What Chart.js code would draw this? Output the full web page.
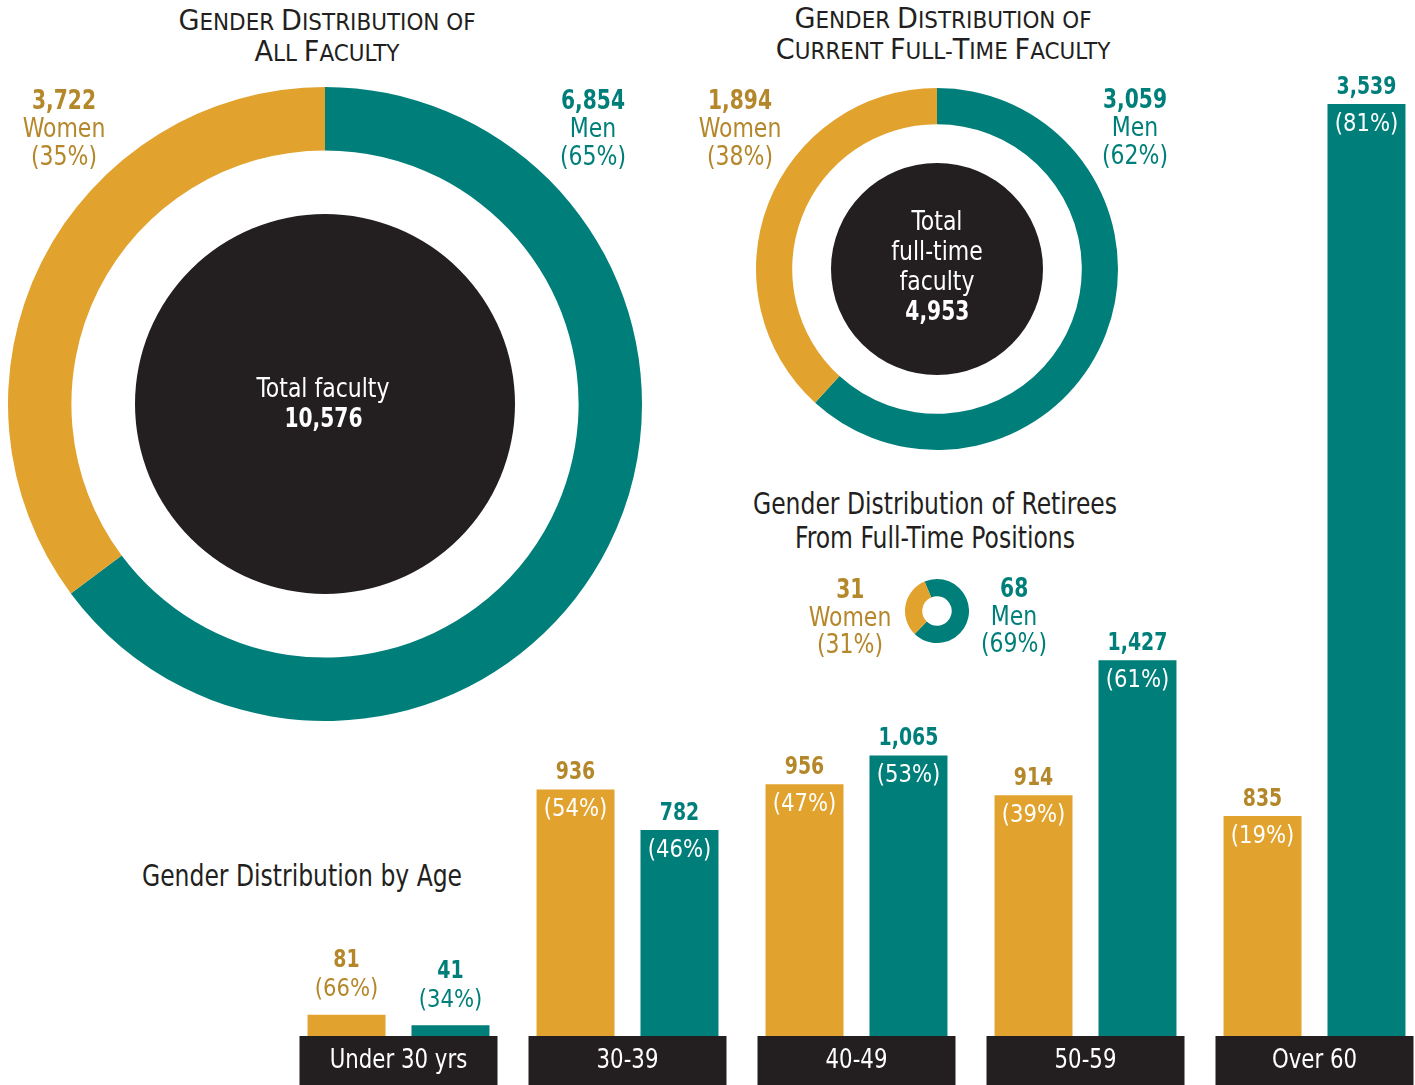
<!DOCTYPE html>
<html><head><meta charset="utf-8">
<script src="https://cdn.jsdelivr.net/npm/chart.js@4"></script>
<style>
html,body{margin:0;padding:0;background:#fff;overflow:hidden;width:1415px;height:1085px;}
body{position:relative;font-family:'Liberation Sans Narrow','DejaVu Sans Condensed',sans-serif;}
canvas{position:absolute;}
.lbl{position:absolute;transform:translateX(-50%) scaleX(0.94);text-align:center;font-size:26px;line-height:28px;white-space:nowrap;}
.gold{color:#B5872B}.teal{color:#007F7A}.white{color:#fff}
.b{font-weight:bold;display:inline-block;transform:scaleX(0.92)}
.title{position:absolute;transform:translateX(-50%) scaleX(1.04);text-align:center;text-transform:uppercase;font-size:23px;line-height:29px;color:#231F20;white-space:nowrap}
.title .c{font-size:29px}
.sub{position:absolute;transform:translateX(-50%) scaleX(0.87);text-align:center;font-size:30px;line-height:34px;color:#231F20;white-space:nowrap}
</style>
</head><body>
<div class="title" style="left:327px;top:6px"><span class="c">G</span>ender <span class="c">D</span>istribution of<br><span class="c">A</span>ll <span class="c">F</span>aculty</div>
<div class="title" style="left:943px;top:4px"><span class="c">G</span>ender <span class="c">D</span>istribution of<br><span class="c">C</span>urrent <span class="c">F</span>ull-<span class="c">T</span>ime <span class="c">F</span>aculty</div>
<div class="sub" style="left:935px;top:487px">Gender Distribution of Retirees<br>From Full-Time Positions</div>
<div class="sub" style="left:302px;top:859px">Gender Distribution by Age</div>

<canvas id="bigDonut" width="634" height="634" style="left:8px;top:87px"></canvas>
<canvas id="ftDonut" width="362" height="362" style="left:756px;top:88px"></canvas>
<canvas id="retDonut" width="64" height="64" style="left:905px;top:579px"></canvas>
<canvas id="ageBars" width="1145" height="1085" style="left:284px;top:0px"></canvas>

<div id="labels"></div>

<script>
// ---- DATA ----
const genderLabels = ['Men', 'Women'];
const allFacultyValues = [6854, 3722];
const allFacultyPct = [65, 35];
const allFacultyTotal = 10576;
const fullTimeValues = [3059, 1894];
const fullTimePct = [62, 38];
const fullTimeTotal = 4953;
const retireeValues = [68, 31];
const retireePct = [69, 31];
const ageCategories = ['Under 30 yrs', '30-39', '40-49', '50-59', 'Over 60'];
const womenByAge = [81, 936, 956, 914, 835];
const menByAge = [41, 782, 1065, 1427, 3539];
const womenPctByAge = [66, 54, 47, 39, 19];
const menPctByAge = [34, 46, 53, 61, 81];

// ---- STYLE ----
const TEAL = '#007E79', GOLD = '#E2A22E', DARK = '#231F20';
const TEAL_TXT = '#007F7A', GOLD_TXT = '#B5872B';
const FONT = "'Liberation Sans Narrow','DejaVu Sans Condensed',sans-serif";
Chart.defaults.font.family = FONT;
const fmt = v => v.toLocaleString('en-US');

// ---- HTML LABELS ----
const L = document.getElementById('labels');
function addLabel(x, y, lh, cls, lines) {
  const d = document.createElement('div');
  d.className = 'lbl ' + cls;
  d.style.left = x + 'px'; d.style.top = y + 'px'; d.style.lineHeight = lh + 'px';
  d.innerHTML = lines.join('<br>');
  L.appendChild(d);
}
const B = t => '<span class="b">' + t + '</span>';
addLabel(64, 86, 28, 'gold', [B(fmt(allFacultyValues[1])), genderLabels[1], '(' + allFacultyPct[1] + '%)']);
addLabel(593, 86, 28, 'teal', [B(fmt(allFacultyValues[0])), genderLabels[0], '(' + allFacultyPct[0] + '%)']);
addLabel(740, 86, 28, 'gold', [B(fmt(fullTimeValues[1])), genderLabels[1], '(' + fullTimePct[1] + '%)']);
addLabel(1135, 85, 28, 'teal', [B(fmt(fullTimeValues[0])), genderLabels[0], '(' + fullTimePct[0] + '%)']);
addLabel(850, 576, 27.5, 'gold', [B(fmt(retireeValues[1])), genderLabels[1], '(' + retireePct[1] + '%)']);
addLabel(1014, 575, 27.5, 'teal', [B(fmt(retireeValues[0])), genderLabels[0], '(' + retireePct[0] + '%)']);
addLabel(323, 373, 30, 'white', ['Total faculty', B(fmt(allFacultyTotal))]);
addLabel(937, 206, 30, 'white', ['Total', 'full-time', 'faculty', B(fmt(fullTimeTotal))]);

// ---- DONUTS ----
function centerDisc(radiusFrac) {
  return {
    id: 'disc',
    beforeDatasetsDraw(chart) {
      const arc = chart.getDatasetMeta(0).data[0];
      if (!arc) return;
      const ctx = chart.ctx;
      ctx.save();
      ctx.beginPath();
      ctx.arc(arc.x, arc.y, arc.outerRadius * radiusFrac, 0, Math.PI * 2);
      ctx.fillStyle = DARK;
      ctx.fill();
      ctx.restore();
    }
  };
}
function donut(id, values, cutout, disc, rotation) {
  new Chart(document.getElementById(id), {
    type: 'doughnut',
    data: { labels: genderLabels, datasets: [{ data: values, backgroundColor: [TEAL, GOLD], borderWidth: 0 }] },
    options: {
      responsive: false, animation: false, cutout: cutout, rotation: rotation || 0,
      layout: { padding: 0 },
      plugins: { legend: { display: false }, tooltip: { enabled: false } }
    },
    plugins: disc ? [centerDisc(disc)] : []
  });
}
donut('bigDonut', allFacultyValues, '80%', 190 / 317, 0);
donut('ftDonut', fullTimeValues, '80%', 106 / 181, 0);
donut('retDonut', retireeValues, '46%', 0, -23);

// ---- BARS ----
function text(ctx, t, x, y, sx) {
  ctx.save();
  ctx.translate(x, y);
  ctx.scale(sx, 1);
  ctx.fillText(t, 0, 0);
  ctx.restore();
}
const barLabelPlugin = {
  id: 'barLabels',
  afterDatasetsDraw(chart) {
    const ctx = chart.ctx;
    const pcts = [womenPctByAge, menPctByAge];
    const txtCol = [GOLD_TXT, TEAL_TXT];
    ctx.save();
    ctx.textAlign = 'center';
    ctx.textBaseline = 'middle';
    chart.data.datasets.forEach((ds, di) => {
      chart.getDatasetMeta(di).data.forEach((bar, i) => {
        const top = bar.y, h = bar.base - bar.y;
        const v = ds.data[i];
        ctx.fillStyle = txtCol[di];
        const inside = h > 60;
        ctx.font = 'bold 25px ' + FONT;
        text(ctx, fmt(v), bar.x, inside ? top - 17 : top - 54, 0.84);
        ctx.font = '25px ' + FONT;
        if (inside) ctx.fillStyle = '#fff';
        text(ctx, '(' + pcts[di][i] + '%)', bar.x, inside ? top + 20 : top - 25, 0.94);
      });
    });
    // category boxes
    const xs = chart.scales.x, area = chart.chartArea;
    ctx.font = '26px ' + FONT;
    chart.data.labels.forEach((lab, i) => {
      const x = xs.getPixelForTick(i);
      ctx.fillStyle = DARK;
      ctx.fillRect(x - 99, area.bottom, 198, chart.height - area.bottom);
      ctx.fillStyle = '#fff';
      text(ctx, lab, x, area.bottom + 25, 0.91);
    });
    ctx.restore();
  }
};
new Chart(document.getElementById('ageBars'), {
  type: 'bar',
  data: {
    labels: ageCategories,
    datasets: [
      { label: 'Women', data: womenByAge, backgroundColor: GOLD, borderWidth: 0, categoryPercentage: 0.908, barPercentage: 0.75 },
      { label: 'Men', data: menByAge, backgroundColor: TEAL, borderWidth: 0, categoryPercentage: 0.908, barPercentage: 0.75 }
    ]
  },
  options: {
    responsive: false, animation: false,
    layout: { padding: { top: 104, bottom: 49, left: 0, right: 0 } },
    scales: {
      x: { display: false },
      y: { display: false, min: 0, max: 3539 }
    },
    plugins: { legend: { display: false }, tooltip: { enabled: false } }
  },
  plugins: [barLabelPlugin]
});
</script>
</body></html>
